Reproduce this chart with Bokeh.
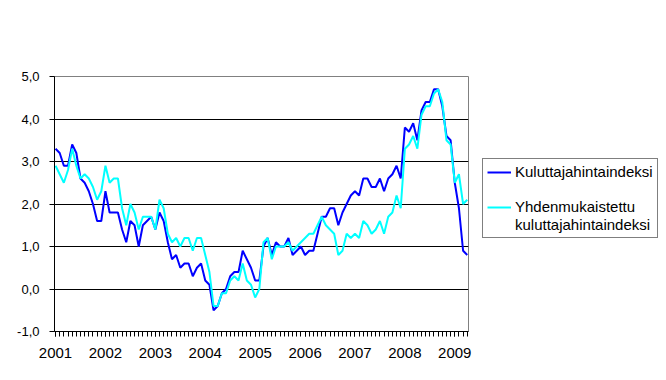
from bokeh.plotting import figure
from bokeh.models import (Range1d, FixedTicker, CustomJSTickFormatter, Legend,
                          LegendItem, ColumnDataSource)
from bokeh.embed import file_html
from bokeh.resources import INLINE

# Monthly data, Jan 2001 .. Apr 2009 (month index 0..99)
months = list(range(100))
year_labels = ["2001", "2002", "2003", "2004", "2005", "2006", "2007", "2008", "2009"]

cpi = [3.3, 3.2, 2.9, 2.9, 3.4, 3.2, 2.6, 2.5, 2.3, 2.0, 1.6, 1.6,
       2.3, 1.8, 1.8, 1.8, 1.4, 1.1, 1.6, 1.5, 1.0, 1.5, 1.6, 1.7,
       1.4, 1.8, 1.6, 1.1, 0.7, 0.8, 0.5, 0.6, 0.6, 0.3, 0.5, 0.6,
       0.2, 0.1, -0.5, -0.4, -0.1, 0.0, 0.3, 0.4, 0.4, 0.9, 0.7, 0.5,
       0.2, 0.2, 1.0, 1.2, 0.8, 1.1, 1.0, 1.0, 1.2, 0.8, 0.9, 1.0,
       0.8, 0.9, 0.9, 1.3, 1.7, 1.7, 1.9, 1.9, 1.5, 1.8, 2.0, 2.2,
       2.3, 2.2, 2.6, 2.6, 2.4, 2.4, 2.6, 2.3, 2.6, 2.7, 2.9, 2.6,
       3.8, 3.7, 3.9, 3.5, 4.2, 4.4, 4.4, 4.7, 4.7, 4.3, 3.6, 3.5,
       2.5, 1.9, 0.9, 0.8]

hicp = [2.9, 2.7, 2.5, 2.8, 3.3, 2.9, 2.6, 2.7, 2.6, 2.4, 2.1, 2.3,
        2.9, 2.5, 2.6, 2.6, 1.9, 1.5, 2.0, 1.8, 1.4, 1.7, 1.7, 1.7,
        1.4, 2.1, 1.9, 1.3, 1.1, 1.2, 1.0, 1.2, 1.2, 0.9, 1.2, 1.2,
        0.8, 0.4, -0.4, -0.4, -0.1, -0.1, 0.2, 0.3, 0.2, 0.6, 0.2, 0.1,
        -0.2, 0.0, 1.1, 1.2, 0.7, 1.0, 1.0, 1.0, 1.1, 0.9, 1.0, 1.1,
        1.2, 1.3, 1.3, 1.5, 1.7, 1.5, 1.4, 1.3, 0.8, 0.9, 1.3, 1.2,
        1.3, 1.2, 1.6, 1.5, 1.3, 1.4, 1.6, 1.3, 1.7, 1.8, 2.2, 1.9,
        3.3, 3.4, 3.6, 3.3, 4.1, 4.3, 4.3, 4.6, 4.7, 4.4, 3.5, 3.4,
        2.5, 2.7, 2.0, 2.1]

label_cpi = "Kuluttajahintaindeksi"
label_hicp_1 = "Yhdenmukaistettu"
label_hicp_2 = "kuluttajahintaindeksi"

FONT = "Liberation Sans"

p = figure(frame_width=414, frame_height=255,
           min_border_left=54, min_border_right=192,
           min_border_top=76, min_border_bottom=41,
           x_range=Range1d(-0.25, 99.3), y_range=Range1d(-1, 5),
           output_backend="svg", toolbar_location=None,
           background_fill_color="white", border_fill_color="white")

p.outline_line_color = "#808080"
p.outline_line_width = 1

# grid
p.xgrid.visible = False
p.ygrid.ticker = FixedTicker(ticks=[0, 1, 2, 3, 4])
p.ygrid.grid_line_color = "black"
p.ygrid.grid_line_width = 1

# y axis
yax = p.yaxis[0]
yax.ticker = FixedTicker(ticks=[-1, 0, 1, 2, 3, 4, 5], minor_ticks=[])
yax.formatter = CustomJSTickFormatter(code="return tick.toFixed(1).replace('.', ',');")
yax.major_tick_out = 5
yax.major_tick_in = 0
yax.minor_tick_out = 0
yax.minor_tick_in = 0
yax.major_label_standoff = 10
yax.major_label_text_font = FONT
yax.major_label_text_font_size = "13px"
yax.major_label_text_color = "black"
yax.axis_line_color = "black"
yax.major_tick_line_color = "black"

# x axis
year_ticks = [months[12 * k] for k in range(len(year_labels))]
xax = p.xaxis[0]
xax.ticker = FixedTicker(ticks=year_ticks, minor_ticks=months)
xax.major_label_overrides = {t: lab for t, lab in zip(year_ticks, year_labels)}
xax.major_tick_out = 5
xax.major_tick_in = 0
xax.minor_tick_out = 5
xax.minor_tick_in = 0
xax.major_label_standoff = 11
xax.major_label_text_font = FONT
xax.major_label_text_font_size = "15px"
xax.major_label_text_color = "black"
xax.axis_line_color = "black"
xax.major_tick_line_color = "black"
xax.minor_tick_line_color = "black"

src = ColumnDataSource(dict(x=months, cpi=cpi, hicp=hicp))
r_cpi = p.line("x", "cpi", source=src, line_color="#0000FF", line_width=2)
r_hicp = p.line("x", "hicp", source=src, line_color="#00FFFF", line_width=2)
r_blank = p.line([], [], line_alpha=0)

legend = Legend(items=[
    LegendItem(label=label_cpi, renderers=[r_cpi]),
    LegendItem(label=" ", renderers=[r_blank]),
    LegendItem(label=label_hicp_1, renderers=[r_hicp]),
    LegendItem(label=label_hicp_2, renderers=[r_blank]),
], location=(14, 93))
legend.margin = 0
legend.padding = 4
legend.spacing = 1
legend.glyph_width = 24
legend.glyph_height = 16
legend.label_height = 16
legend.label_standoff = 4
legend.label_text_font = FONT
legend.label_text_font_size = "15px"
legend.label_text_color = "black"
legend.border_line_color = "black"
legend.border_line_width = 1
legend.background_fill_color = "white"
legend.background_fill_alpha = 1
p.add_layout(legend, "right")

open("out.html", "w").write(file_html(p, INLINE))
